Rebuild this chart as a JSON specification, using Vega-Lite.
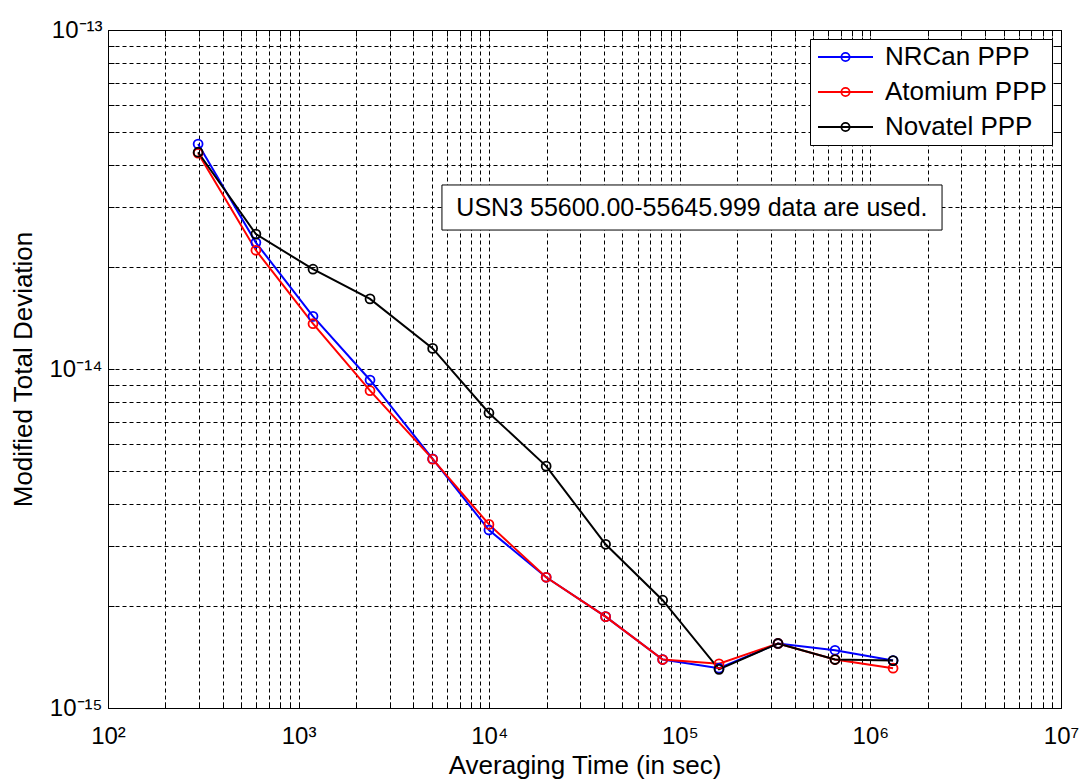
{
  "$schema": "https://vega.github.io/schema/vega-lite/v6.json",
  "width": 953,
  "height": 678,
  "autosize": "none",
  "padding": {"left": 108, "top": 30, "right": 22, "bottom": 74},
  "background": "white",
  "config": {
    "view": {"stroke": "black", "strokeWidth": 1},
    "font": "Liberation Sans"
  },
  "datasets": {
    "series": [
      {"series": "NRCan PPP", "tau": 297, "mdev": 4.61e-14},
      {"series": "NRCan PPP", "tau": 597, "mdev": 2.36e-14},
      {"series": "NRCan PPP", "tau": 1190, "mdev": 1.43e-14},
      {"series": "NRCan PPP", "tau": 2370, "mdev": 9.28e-15},
      {"series": "NRCan PPP", "tau": 5050, "mdev": 5.43e-15},
      {"series": "NRCan PPP", "tau": 9970, "mdev": 3.35e-15},
      {"series": "NRCan PPP", "tau": 19900, "mdev": 2.43e-15},
      {"series": "NRCan PPP", "tau": 40800, "mdev": 1.86e-15},
      {"series": "NRCan PPP", "tau": 81300, "mdev": 1.39e-15},
      {"series": "NRCan PPP", "tau": 160600, "mdev": 1.31e-15},
      {"series": "NRCan PPP", "tau": 327600, "mdev": 1.55e-15},
      {"series": "NRCan PPP", "tau": 652000, "mdev": 1.48e-15},
      {"series": "NRCan PPP", "tau": 1315000, "mdev": 1.38e-15},
      {"series": "Atomium PPP", "tau": 297, "mdev": 4.33e-14},
      {"series": "Atomium PPP", "tau": 597, "mdev": 2.24e-14},
      {"series": "Atomium PPP", "tau": 1190, "mdev": 1.36e-14},
      {"series": "Atomium PPP", "tau": 2370, "mdev": 8.63e-15},
      {"series": "Atomium PPP", "tau": 5050, "mdev": 5.42e-15},
      {"series": "Atomium PPP", "tau": 9970, "mdev": 3.48e-15},
      {"series": "Atomium PPP", "tau": 19900, "mdev": 2.43e-15},
      {"series": "Atomium PPP", "tau": 40800, "mdev": 1.86e-15},
      {"series": "Atomium PPP", "tau": 81300, "mdev": 1.39e-15},
      {"series": "Atomium PPP", "tau": 160600, "mdev": 1.35e-15},
      {"series": "Atomium PPP", "tau": 327600, "mdev": 1.55e-15},
      {"series": "Atomium PPP", "tau": 652000, "mdev": 1.39e-15},
      {"series": "Atomium PPP", "tau": 1315000, "mdev": 1.31e-15},
      {"series": "Novatel PPP", "tau": 297, "mdev": 4.36e-14},
      {"series": "Novatel PPP", "tau": 597, "mdev": 2.5e-14},
      {"series": "Novatel PPP", "tau": 1190, "mdev": 1.97e-14},
      {"series": "Novatel PPP", "tau": 2370, "mdev": 1.61e-14},
      {"series": "Novatel PPP", "tau": 5050, "mdev": 1.15e-14},
      {"series": "Novatel PPP", "tau": 9970, "mdev": 7.42e-15},
      {"series": "Novatel PPP", "tau": 19900, "mdev": 5.17e-15},
      {"series": "Novatel PPP", "tau": 40800, "mdev": 3.04e-15},
      {"series": "Novatel PPP", "tau": 81300, "mdev": 2.08e-15},
      {"series": "Novatel PPP", "tau": 160600, "mdev": 1.3e-15},
      {"series": "Novatel PPP", "tau": 327600, "mdev": 1.55e-15},
      {"series": "Novatel PPP", "tau": 652000, "mdev": 1.39e-15},
      {"series": "Novatel PPP", "tau": 1315000, "mdev": 1.38e-15}
    ],
    "note": [
      {"x1": 5650, "x2": 2376000, "y1": 2.57e-14, "y2": 3.49e-14, "xm": 115800, "ym": 2.995e-14, "label": "USN3 55600.00-55645.999 data are used."}
    ]
  },
  "layer": [
    {
      "data": {"name": "series"},
      "mark": {
        "type": "line",
        "strokeWidth": 2,
        "point": {"filled": false, "shape": "circle", "size": 80, "strokeWidth": 1.8}
      },
      "encoding": {
        "x": {
          "field": "tau",
          "type": "quantitative",
          "scale": {"type": "log", "domain": [100, 10000000], "nice": false},
          "axis": {
            "orient": "bottom",
            "values": [100, 200, 300, 400, 500, 600, 700, 800, 900, 1000, 2000, 3000, 4000, 5000, 6000, 7000, 8000, 9000, 10000, 20000, 30000, 40000, 50000, 60000, 70000, 80000, 90000, 100000, 200000, 300000, 400000, 500000, 600000, 700000, 800000, 900000, 1000000, 2000000, 3000000, 4000000, 5000000, 6000000, 7000000, 8000000, 9000000, 10000000],
            "labelExpr": "datum.value == 100 ? '10²' : datum.value == 1000 ? '10³' : datum.value == 10000 ? '10⁴' : datum.value == 100000 ? '10⁵' : datum.value == 1000000 ? '10⁶' : datum.value == 10000000 ? '10⁷' : ''",
            "grid": true,
            "gridDash": [4, 3],
            "gridColor": "#000000",
            "gridOpacity": 1,
            "gridWidth": 1,
            "domain": false,
            "tickSize": -6,
            "tickColor": "#000000",
            "tickWidth": 1,
            "labelFontSize": 24,
            "labelColor": "#000000",
            "labelPadding": 22,
            "labelFlush": false,
            "labelOverlap": false,
            "title": "Averaging Time (in sec)",
            "titleFontSize": 26,
            "titleFontWeight": "normal",
            "titleColor": "#000000",
            "titlePadding": 4
          }
        },
        "y": {
          "field": "mdev",
          "type": "quantitative",
          "scale": {"type": "log", "domain": [1e-15, 1e-13], "nice": false},
          "axis": {
            "orient": "left",
            "values": [1e-15, 2e-15, 3e-15, 4e-15, 5e-15, 6e-15, 7e-15, 8e-15, 9e-15, 1e-14, 2e-14, 3e-14, 4e-14, 5e-14, 6e-14, 7e-14, 8e-14, 9e-14, 1e-13],
            "labelExpr": "datum.value == 1e-15 ? '10⁻¹⁵' : datum.value == 1e-14 ? '10⁻¹⁴' : datum.value == 1e-13 ? '10⁻¹³' : ''",
            "grid": true,
            "gridDash": [4, 3],
            "gridColor": "#000000",
            "gridOpacity": 1,
            "gridWidth": 1,
            "domain": false,
            "tickSize": -6,
            "tickColor": "#000000",
            "tickWidth": 1,
            "labelFontSize": 24,
            "labelColor": "#000000",
            "labelPadding": 12,
            "labelFlush": false,
            "labelOverlap": false,
            "title": "Modified Total Deviation",
            "titleFontSize": 26,
            "titleFontWeight": "normal",
            "titleColor": "#000000",
            "titlePadding": 13
          }
        },
        "color": {
          "field": "series",
          "type": "nominal",
          "scale": {"domain": ["NRCan PPP", "Atomium PPP", "Novatel PPP"], "range": ["#0000ff", "#ff0000", "#000000"]},
          "legend": {
            "title": null,
            "orient": "top-right",
            "offset": 9,
            "padding": 5,
            "strokeColor": "#000000",
            "fillColor": "#ffffff",
            "labelFontSize": 26,
            "labelColor": "#000000",
            "labelLimit": 0,
            "symbolType": "M-1,0L4.5,0M1.34,0A0.41,0.41,0,1,1,2.16,0A0.41,0.41,0,1,1,1.34,0",
            "symbolSize": 400,
            "symbolStrokeWidth": 1.8,
            "symbolFillColor": "transparent",
            "labelOffset": 44,
            "rowPadding": 9
          }
        }
      }
    },
    {
      "data": {"name": "note"},
      "mark": {"type": "rect", "fill": "#ffffff", "stroke": "#000000", "strokeWidth": 1},
      "encoding": {
        "x": {
          "field": "x1",
          "type": "quantitative",
          "axis": {
            "orient": "top",
            "values": [100, 200, 300, 400, 500, 600, 700, 800, 900, 1000, 2000, 3000, 4000, 5000, 6000, 7000, 8000, 9000, 10000, 20000, 30000, 40000, 50000, 60000, 70000, 80000, 90000, 100000, 200000, 300000, 400000, 500000, 600000, 700000, 800000, 900000, 1000000, 2000000, 3000000, 4000000, 5000000, 6000000, 7000000, 8000000, 9000000, 10000000],
            "labels": false,
            "grid": false,
            "domain": false,
            "tickSize": -6,
            "tickColor": "#000000",
            "title": null
          }
        },
        "x2": {"field": "x2"},
        "y": {
          "field": "y1",
          "type": "quantitative",
          "axis": {
            "orient": "right",
            "values": [1e-15, 2e-15, 3e-15, 4e-15, 5e-15, 6e-15, 7e-15, 8e-15, 9e-15, 1e-14, 2e-14, 3e-14, 4e-14, 5e-14, 6e-14, 7e-14, 8e-14, 9e-14, 1e-13],
            "labels": false,
            "grid": false,
            "domain": false,
            "tickSize": -6,
            "tickColor": "#000000",
            "title": null
          }
        },
        "y2": {"field": "y2"}
      }
    },
    {
      "data": {"name": "note"},
      "mark": {"type": "text", "fontSize": 25, "align": "center", "baseline": "middle", "color": "#000000"},
      "encoding": {
        "x": {"field": "xm", "type": "quantitative", "axis": null},
        "y": {"field": "ym", "type": "quantitative", "axis": null},
        "text": {"field": "label"}
      }
    }
  ],
  "resolve": {"axis": {"x": "independent", "y": "independent"}}
}
